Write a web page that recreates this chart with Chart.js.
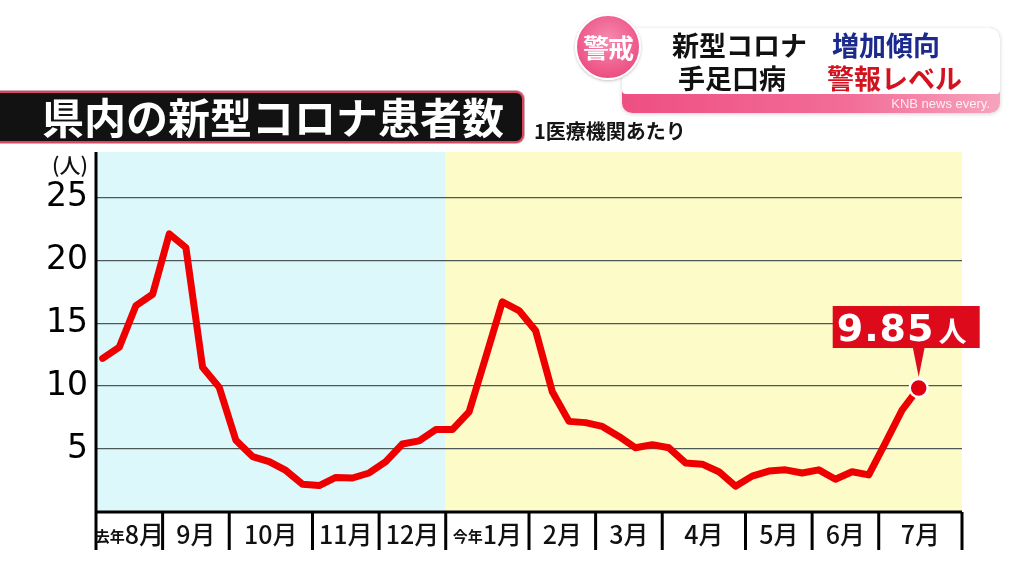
<!DOCTYPE html>
<html lang="ja">
<head>
<meta charset="utf-8">
<script src="https://cdn.jsdelivr.net/npm/chart.js@4.4.1/dist/chart.umd.min.js"></script>
<style>
*{box-sizing:border-box;}
html,body{margin:0;padding:0;background:#fff;width:1024px;height:576px;overflow:hidden;font-family:"Noto Sans CJK JP","Noto Sans",sans-serif;}
#wrap{position:relative;width:1024px;height:576px;}
#c{position:absolute;left:0;top:0;}
.title{position:absolute;left:-8px;top:91px;width:532px;height:52px;background:#121212;border:2px solid #d9455e;border-radius:8px;
  color:#fff;font-weight:700;font-size:42px;line-height:46px;padding-left:48px;white-space:nowrap;letter-spacing:0px;z-index:2;
  box-shadow:0 0 0 1px rgba(120,20,40,0.35);}
.sub{position:absolute;left:534px;top:118px;font-size:20px;line-height:26px;font-weight:700;color:#151515;white-space:nowrap;z-index:2;}
.panel{position:absolute;left:622px;top:28px;width:378px;height:85px;border-radius:10px;
  background:linear-gradient(90deg,#ee4f82 0%,#f26d98 60%,#f7a3bd 100%);box-shadow:0 1px 4px rgba(0,0,0,0.18);z-index:2;}
.panel .white{position:absolute;left:0;top:0;width:378px;height:66px;background:#fff;border-radius:10px 10px 4px 4px;}
.knb{position:absolute;right:10px;bottom:2px;font-family:"Liberation Sans",Arial,sans-serif;font-size:13px;color:rgba(255,255,255,0.85);white-space:nowrap;}
.badge{position:absolute;left:575px;top:14px;width:66px;height:66px;border-radius:50%;
  background:radial-gradient(circle at 50% 40%,#f58cb0 0%,#ee5b8c 60%,#e4406f 100%);border:2px solid #fff;box-shadow:0 1px 3px rgba(0,0,0,0.25);
  color:#fff;font-weight:700;font-size:26px;line-height:62px;text-align:center;letter-spacing:-1px;z-index:3;}
.t{position:absolute;font-weight:700;font-size:27px;line-height:32px;white-space:nowrap;z-index:3;}
</style>
</head>
<body>
<div id="wrap">
  <canvas id="c" width="1024" height="576"></canvas>
  <div class="title">県内の新型コロナ患者数</div>
  <div class="sub">1医療機関あたり</div>
  <div class="panel"><div class="white"></div><div class="knb">KNB news every.</div></div>
  <div class="badge">警戒</div>
  <div class="t" style="left:672px;top:29px;color:#111;">新型コロナ</div>
  <div class="t" style="left:832px;top:29px;color:#1b2a8c;">増加傾向</div>
  <div class="t" style="left:678px;top:62px;color:#111;">手足口病</div>
  <div class="t" style="left:827px;top:62px;color:#d3121f;">警報レベル</div>
</div>
<script>
// ---- data ----
const monthLabels = ['去年8月','9月','10月','11月','12月','今年1月','2月','3月','4月','5月','6月','7月'];
const weeksPerMonth = [4,4,5,4,4,5,4,4,5,4,4,5];
const monthsLastYear = 5;
const cases = [12.2,13.1,16.4,17.3,22.1,21.0,11.5,9.9,5.7,4.4,
               4.0,3.3,2.2,2.1,2.75,2.7,3.1,4.0,5.4,5.65,
               6.55,6.55,7.95,12.3,16.7,16.0,14.4,9.55,7.2,7.1,
               6.8,6.0,5.1,5.35,5.1,3.9,3.8,3.2,2.05,2.85,
               3.25,3.35,3.1,3.35,2.6,3.2,2.95,5.5,8.1,9.85];
const yTicks = [5,10,15,20,25];
const yUnit = '(人)';
const latestText = '9.85';
const latestUnit = '人';

// month boundaries in week-index units
const startOffset = -0.4;
const bounds = [startOffset];
weeksPerMonth.forEach(w => bounds.push(bounds[bounds.length-1] + w));
const lastIdx = cases.length - 1;

const JP = '"Noto Sans CJK JP","Noto Sans",sans-serif';

const decor = {
  id: 'decor',
  beforeDraw(chart){
    const {ctx, chartArea:a, scales:{x}} = chart;
    const split = x.getPixelForValue(bounds[monthsLastYear]);
    ctx.save();
    ctx.fillStyle = '#ddf8fb';
    ctx.fillRect(a.left, a.top, split - a.left, a.bottom - a.top);
    ctx.fillStyle = '#fdfbc7';
    ctx.fillRect(split, a.top, a.right - split, a.bottom - a.top);
    ctx.restore();
  },
  afterDatasetsDraw(chart){
    const {ctx, chartArea:a, scales:{x}} = chart;
    ctx.save();
    // axis lines
    ctx.strokeStyle = '#000';
    ctx.lineWidth = 3;
    ctx.beginPath();
    ctx.moveTo(a.left, a.top); ctx.lineTo(a.left, a.bottom + 38);
    ctx.moveTo(a.left, a.bottom); ctx.lineTo(a.right, a.bottom);
    bounds.forEach((b,i) => {
      if (i === 0) return;
      const px = x.getPixelForValue(b);
      ctx.moveTo(px, a.bottom); ctx.lineTo(px, a.bottom + 38);
    });
    ctx.stroke();
    // month labels
    ctx.fillStyle = '#111';
    ctx.textBaseline = 'middle';
    ctx.textAlign = 'left';
    monthLabels.forEach((lab,i) => {
      const cx = (x.getPixelForValue(bounds[i]) + x.getPixelForValue(bounds[i+1])) / 2;
      let pre = '', main = lab;
      if (lab.startsWith('去年') || lab.startsWith('今年')) { pre = lab.slice(0,2); main = lab.slice(2); }
      ctx.font = '700 15px ' + JP;
      const wp = pre ? ctx.measureText(pre).width : 0;
      ctx.font = '500 25px ' + JP;
      const wm = ctx.measureText(main).width;
      let sx = cx - (wp + wm) / 2;
      const cy = a.bottom + 22;
      if (pre) { ctx.font = '700 15px ' + JP; ctx.fillText(pre, sx, cy + 2); sx += wp; }
      ctx.font = '500 25px ' + JP;
      ctx.fillText(main, sx, cy);
    });
    // unit label
    ctx.font = '500 21px ' + JP;
    ctx.textAlign = 'right';
    ctx.fillStyle = '#111';
    ctx.fillText(yUnit, a.left - 8, a.top + 13);
    // annotation for latest value
    const pt = chart.getDatasetMeta(0).data[lastIdx];
    const px = pt.x, py = pt.y;
    const bw = 147, bh = 42;
    const bl = px - 86, bt = py - 82;
    ctx.fillStyle = '#dc0a1a';
    ctx.fillRect(bl, bt, bw, bh);
    ctx.beginPath();
    ctx.moveTo(px - 6, bt + bh - 1);
    ctx.lineTo(px + 6, bt + bh - 1);
    ctx.lineTo(px, py - 11);
    ctx.closePath();
    ctx.fill();
    ctx.fillStyle = '#fff';
    ctx.textAlign = 'left';
    ctx.textBaseline = 'alphabetic';
    ctx.font = '700 38px "DejaVu Sans"';
    ctx.letterSpacing = '1px';
    ctx.fillText(latestText, bl + 4, bt + 35);
    const w1 = ctx.measureText(latestText).width;
    ctx.letterSpacing = '0px';
    ctx.font = '700 28px ' + JP;
    ctx.fillText(latestUnit, bl + 8 + w1, bt + 36);
    ctx.restore();
  }
};

new Chart(document.getElementById('c'), {
  type: 'line',
  data: {
    datasets: [{
      data: cases.map((v,i) => ({x:i, y:v})),
      borderColor: '#ee0000',
      borderWidth: 7,
      tension: 0,
      borderJoinStyle: 'round',
      borderCapStyle: 'round',
      pointRadius: ctx => ctx.dataIndex === lastIdx ? 9 : 0,
      pointHoverRadius: 0,
      pointBackgroundColor: '#e0000f',
      pointBorderColor: '#fff',
      pointBorderWidth: 2.5,
      clip: false
    }]
  },
  options: {
    responsive: false,
    animation: false,
    devicePixelRatio: 1,
    layout: { padding: { top: 152, right: 62, bottom: 64, left: 0 } },
    plugins: { legend: { display: false }, tooltip: { enabled: false } },
    scales: {
      x: { type: 'linear', min: bounds[0], max: bounds[bounds.length-1], display: false },
      y: {
        min: 0, max: 28.6,
        afterBuildTicks: s => { s.ticks = yTicks.map(v => ({value: v})); },
        afterFit: s => { s.width = 96; },
        border: { display: false },
        grid: { color: '#4d5858', lineWidth: 1.3, drawTicks: false },
        ticks: { color: '#000', padding: 8, font: { family: 'DejaVu Sans', size: 33 } }
      }
    }
  },
  plugins: [decor]
});
</script>
</body>
</html>
